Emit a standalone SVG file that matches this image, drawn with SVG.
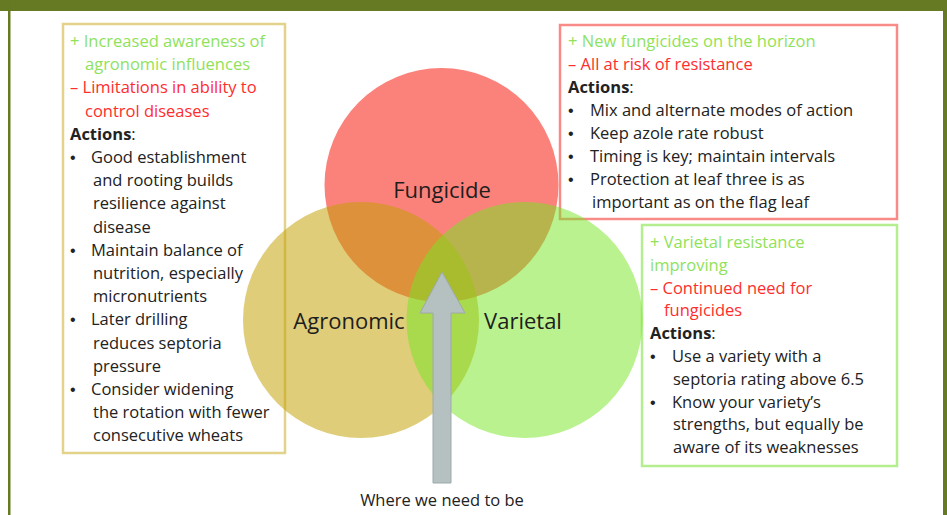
<svg xmlns="http://www.w3.org/2000/svg" width="947" height="515" viewBox="0 0 947 515">
<defs>
<style>
text{font-family:"Open Sans","Liberation Sans",sans-serif;font-size:16.5px;fill:#222222}
.g{fill:#8fe25a}
.r{fill:#ff2d2d}
.b{font-weight:bold}
.u{font-family:"Liberation Sans",sans-serif;font-size:16px}
.lbl{font-size:22px;fill:#1e1e1e;text-anchor:middle}
.box{fill:#ffffff;stroke-width:2.5}
</style>
</defs>
<rect x="0" y="0" width="947" height="515" fill="#ffffff"/>
<g id="frame" fill="#657a22">
<rect x="0" y="0" width="947" height="11"/>
<rect x="8" y="0" width="2.5" height="515"/>
<rect x="943" y="0" width="4" height="515"/>
</g>
<g id="box-agronomic">
<rect class="box" x="63" y="24" width="222" height="429" stroke="#e3d38a"/>
<text x="70" y="47" class="g">+ Increased awareness of</text>
<text x="85" y="70.2" class="g">agronomic influences</text>
<text x="70" y="93.4" class="r">– Limitations in ability to</text>
<text x="85" y="116.6" class="r">control diseases</text>
<text x="70" y="139.8"><tspan class="b">Actions</tspan>:</text>
<text x="70" y="163" class="u">•</text><text x="91" y="163">Good establishment</text>
<text x="93" y="186.2">and rooting builds</text>
<text x="93" y="209.4">resilience against</text>
<text x="93" y="232.6">disease</text>
<text x="70" y="255.8" class="u">•</text><text x="91" y="255.8">Maintain balance of</text>
<text x="93" y="279">nutrition, especially</text>
<text x="93" y="302.2">micronutrients</text>
<text x="70" y="325.4" class="u">•</text><text x="91" y="325.4">Later drilling</text>
<text x="93" y="348.6">reduces septoria</text>
<text x="93" y="371.8">pressure</text>
<text x="70" y="395" class="u">•</text><text x="91" y="395">Consider widening</text>
<text x="93" y="418.2">the rotation with fewer</text>
<text x="93" y="441.4">consecutive wheats</text>
</g>
<g id="box-fungicide">
<rect class="box" x="560" y="25" width="337" height="194" stroke="#f88a88"/>
<text x="568" y="47" class="g">+ New fungicides on the horizon</text>
<text x="568" y="70" class="r">– All at risk of resistance</text>
<text x="568" y="93"><tspan class="b">Actions</tspan>:</text>
<text x="568" y="116" class="u">•</text><text x="590" y="116">Mix and alternate modes of action</text>
<text x="568" y="139" class="u">•</text><text x="590" y="139">Keep azole rate robust</text>
<text x="568" y="162" class="u">•</text><text x="590" y="162">Timing is key; maintain intervals</text>
<text x="568" y="185" class="u">•</text><text x="590" y="185">Protection at leaf three is as</text>
<text x="592" y="208">important as on the flag leaf</text>
</g>
<g id="box-varietal">
<rect class="box" x="642" y="225" width="255" height="241" stroke="#b5ee8e"/>
<text x="650" y="248" class="g">+ Varietal resistance</text>
<text x="650" y="270.8" class="g">improving</text>
<text x="650" y="293.6" class="r">– Continued need for</text>
<text x="664" y="316.4" class="r">fungicides</text>
<text x="650" y="339.2"><tspan class="b">Actions</tspan>:</text>
<text x="650" y="362" class="u">•</text><text x="672" y="362">Use a variety with a</text>
<text x="673" y="384.8">septoria rating above 6.5</text>
<text x="650" y="407.6" class="u">•</text><text x="672" y="407.6">Know your variety’s</text>
<text x="673" y="430.4">strengths, but equally be</text>
<text x="673" y="453.2">aware of its weaknesses</text>
</g>
<g id="circle-fungicide">
<circle cx="441.5" cy="185" r="117" fill="#fb827b"/>
</g>
<g id="circle-agronomic">
<circle cx="361" cy="320" r="118" fill="#c19f00" fill-opacity="0.52"/>
</g>
<g id="circle-varietal">
<circle cx="524.5" cy="320" r="118" fill="#76e622" fill-opacity="0.51"/>
</g>
<g id="labels">
<text x="442" y="198" class="lbl">Fungicide</text>
<text x="349" y="329" class="lbl">Agronomic</text>
<text x="523" y="329" class="lbl">Varietal</text>
</g>
<g id="connectors">
<polygon points="442,272 465,313 451,313 451,483 433,483 433,313 420,313" fill="#b4c1c0" stroke="#9eaaaa" stroke-width="1"/>
</g>
<g id="goal">
<text x="442" y="506" text-anchor="middle">Where we need to be</text>
</g>
</svg>
